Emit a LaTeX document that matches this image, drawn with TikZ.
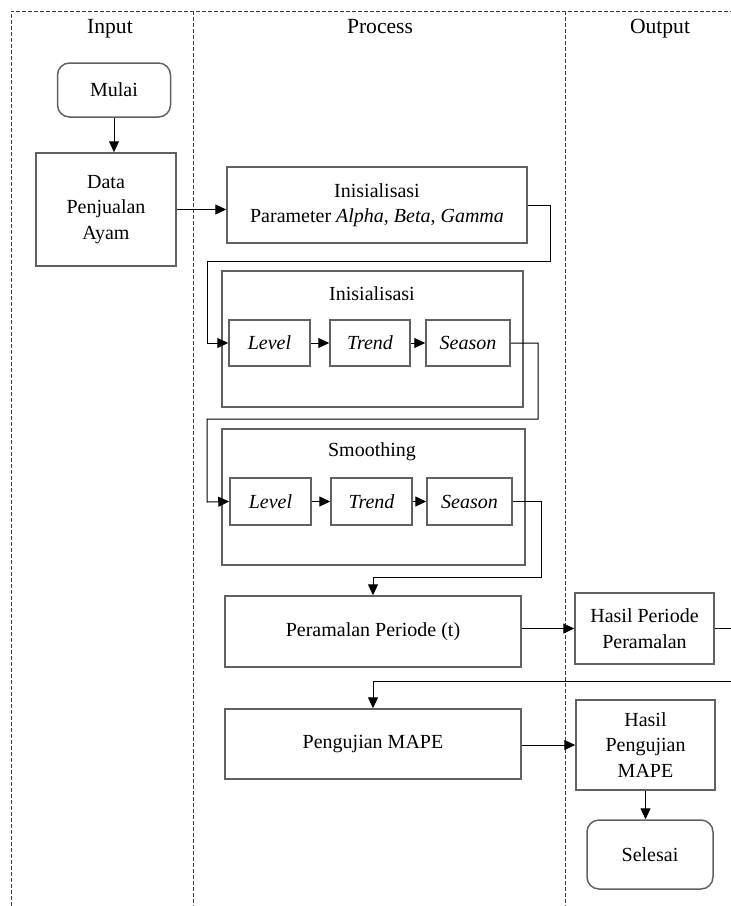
\documentclass[tikz,border=0pt]{standalone}
\usepackage{fontspec}
\setmainfont{Liberation Serif}
\usetikzlibrary{arrows.meta}
\begin{document}
\begin{tikzpicture}[x=0.5pt,y=-0.5pt,
  every node/.style={font=\fontsize{10}{12.8}\selectfont},
  head/.style={anchor=base,font=\fontsize{10.8}{13}\selectfont},
  box/.style={draw=black!62,line width=0.75pt,align=center,inner sep=0pt},
  term/.style={box,rounded corners=6pt},
  group/.style={draw=black!62,line width=0.75pt},
  lane/.style={draw=black!75,line width=0.4pt,dash pattern=on 2pt off 1pt},
  arr/.style={-{Triangle[length=5.5pt,width=5pt]},line width=0.5pt}]
\useasboundingbox (0,0) rectangle (731,906);
\clip (0,0) rectangle (731,906);
% lanes
\draw[lane] (11,930) -- (11,11) -- (760,11);
\draw[lane] (193,11) -- (193,930);
\draw[lane] (565,11) -- (565,930);
\node[head] (hin) at (110,33) {Input};
\node[head] (hpro) at (380,33) {Process};
\node[head] (hout) at (660,33) {Output};

% input lane
\node[term,minimum width=56.5pt,minimum height=27pt] (mulai) at (114,90) {Mulai};
\node[box,minimum width=70pt,minimum height=56.5pt] (data) at (106,209.5) {Data\\Penjualan\\Ayam};

% process lane
\node[box,minimum width=150pt,minimum height=38pt] (param) at (377,205) {Inisialisasi\\Parameter \textit{Alpha}, \textit{Beta}, \textit{Gamma}};
\draw[group] (222,271) rectangle (523,407);
\node (tinit) at (372,294) {Inisialisasi};
\node[box,minimum width=40.5pt,minimum height=23pt] (lvlA) at (269.5,343) {\textit{Level}};
\node[box,minimum width=40pt,minimum height=23pt] (trdA) at (370,343) {\textit{Trend}};
\node[box,minimum width=42pt,minimum height=23pt] (ssnA) at (468,343) {\textit{Season}};
\draw[group] (222,429) rectangle (525,565);
\node (tsmooth) at (372,452) {Smoothing};
\node[box,minimum width=40.5pt,minimum height=23.5pt] (lvlB) at (270.5,501.5) {\textit{Level}};
\node[box,minimum width=40.5pt,minimum height=23.5pt] (trdB) at (371.5,501.5) {\textit{Trend}};
\node[box,minimum width=42.5pt,minimum height=23.5pt] (ssnB) at (469.5,501.5) {\textit{Season}};
\node[box,minimum width=148pt,minimum height=35.5pt] (ramal) at (373,631.5) {Peramalan Periode (t)};
\node[box,minimum width=148pt,minimum height=35pt] (uji) at (373,744) {Pengujian MAPE};

% output lane
\node[box,minimum width=69.5pt,minimum height=35.5pt] (hramal) at (644.5,628.5) {Hasil Periode\\Peramalan};
\node[box,minimum width=69.5pt,minimum height=45pt] (huji) at (645.5,745) {Hasil\\Pengujian\\MAPE};
\node[term,minimum width=63pt,minimum height=34.5pt] (selesai) at (650,854.5) {Selesai};

% connectors
\draw[arr] (mulai.south) -- (mulai.south |- data.north);
\draw[arr] (data.east) -- (data.east -| param.west);
\draw[arr] (param.east) -| (550,261) -| (207,343) -- (lvlA.west);
\draw[arr] (lvlA) -- (trdA);
\draw[arr] (trdA) -- (ssnA);
\draw[arr] (ssnA.east) -| (538,419) -| (207,502) -- (lvlB.west);
\draw[arr] (lvlB) -- (trdB);
\draw[arr] (trdB) -- (ssnB);
\draw[arr] (ssnB.east) -| (541,577) -| (ramal.north);
\draw[arr] (hramal.west -| ramal.east) -- (hramal.west);
\draw[arr] (hramal.east) -- (760,628.5) -- (760,681) -| (uji.north);
\draw[arr] (huji.west -| uji.east) -- (huji.west);
\draw[arr] (huji.south) -- (huji.south |- selesai.north);
\end{tikzpicture}
\end{document}
